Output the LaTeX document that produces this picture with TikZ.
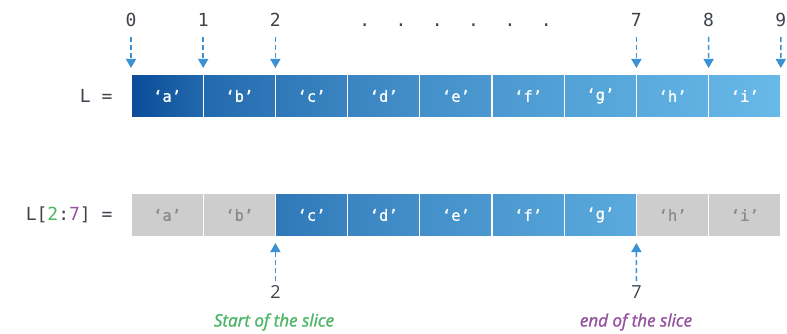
\documentclass[tikz,border=0pt]{standalone}
\usepackage{fontspec}
\setmainfont{Open Sans}
\setmonofont{DejaVu Sans Mono}
\newfontfamily\slicefont{Open Sans}[FakeBold=1.5, ItalicFeatures={FakeBold=1.5}]
\newfontfamily\cellfont{DejaVu Sans Mono}[FakeBold=0.8]
\usetikzlibrary{arrows.meta}
\definecolor{bdark}{HTML}{0A4C98}
\definecolor{blight}{HTML}{67B9E8}
\definecolor{arrowc}{HTML}{3A92D5}
\definecolor{labc}{HTML}{3D434B}
\definecolor{greyb}{HTML}{CDCDCD}
\definecolor{greyt}{HTML}{8A8A8A}
\definecolor{greenc}{HTML}{4DB566}
\definecolor{purplec}{HTML}{94529F}
\begin{document}
\begin{tikzpicture}[x=1pt,y=-1pt,
  cell/.style={minimum width=72.2pt, minimum height=44pt, inner sep=0pt, outer sep=0pt,
    anchor=north west, draw=white, line width=1.2pt,
    font=\cellfont\fontsize{15.5}{15.5}\selectfont, text=white},
  greycell/.style={cell, fill=greyb, text=greyt},
  idx/.style={font=\ttfamily\fontsize{18}{18}\selectfont, text=labc, anchor=base},
  lbl/.style={font=\ttfamily\fontsize{18}{18}\selectfont, text=labc, anchor=east},
  bnum/.style={font=\fontsize{18}{18}\selectfont, text=labc},
  slice/.style={font=\slicefont\itshape\fontsize{17}{17}\selectfont},
  arr/.style={draw=arrowc, line width=1.5pt, dash pattern=on 5pt off 3pt,
    -{Triangle[width=10pt,length=9pt]}}
]
\useasboundingbox (0,0) rectangle (787,334);

% top row
\foreach \c [count=\k from 0] in {a,b,c,d,e,f,g,h,i} {
  \pgfmathsetmacro\pl{100-100*(\k/9)^0.6}
  \pgfmathsetmacro\pr{100-100*((\k+1)/9)^0.6}
  \node[cell, left color=bdark!\pl!blight, right color=bdark!\pr!blight] (t\k) at (131+72.2*\k, 74) {‘\c’};
}

% bottom row
\foreach \c [count=\k from 0] in {a,b,c,d,e,f,g,h,i} {
  \pgfmathsetmacro\pl{100-100*(\k/9)^0.6}
  \pgfmathsetmacro\pr{100-100*((\k+1)/9)^0.6}
  \ifnum\k<2
    \node[greycell] (b\k) at (131+72.2*\k, 193) {‘\c’};
  \else\ifnum\k>6
    \node[greycell] (b\k) at (131+72.2*\k, 193) {‘\c’};
  \else
    \node[cell, left color=bdark!\pl!blight, right color=bdark!\pr!blight] (b\k) at (131+72.2*\k, 193) {‘\c’};
  \fi\fi
}

% left labels
\node[lbl] (lL) at (116, 96) {L =};
\node[lbl] (lS) at (116, 215) {L[\textcolor{greenc}{2}:\textcolor{purplec}{7}] =};

% top indices
\foreach \i in {0,1,2,7} {
  \node[idx] (i\i) at (131+72.2*\i, 27) {\i};
}
\node[idx] (i8) at (708.6, 27) {8};
\node[idx] (i9) at (780.8, 27) {9};
\node[idx] (dots) at (455.5, 27) {\makebox[36.3pt]{.}\makebox[36.3pt]{.}\makebox[36.3pt]{.}\makebox[36.3pt]{.}\makebox[36.3pt]{.}\makebox[36.3pt]{.}};

% top arrows
\foreach \i in {0,1,2,7} {
  \coordinate (as\i) at (131+72.2*\i, 37);
  \draw[arr, shorten >=6pt] (as\i) -- (t\i.north west);
}
\coordinate (as8) at (708.6, 37);
\draw[arr, shorten >=6pt] (as8) -- (t8.north west);
\coordinate (as9) at (780.8, 37);
\draw[arr, shorten >=6pt] (as9) -- (t8.north east);

% bottom arrows
\coordinate (bs2) at (275.4, 281);
\draw[arr, shorten >=6pt] (bs2) -- (b2.south west);
\coordinate (bs7) at (636.4, 281);
\draw[arr, shorten >=6pt] (bs7) -- (b7.south west);

\node[bnum] (n2) at (275.4, 292) {2};
\node[bnum] (n7) at (636.4, 292) {7};
\node[slice, text=greenc] (st) at (274, 322) {Start of the slice};
\node[slice, text=purplec] (en) at (636, 322) {end of the slice};
\end{tikzpicture}
\end{document}
